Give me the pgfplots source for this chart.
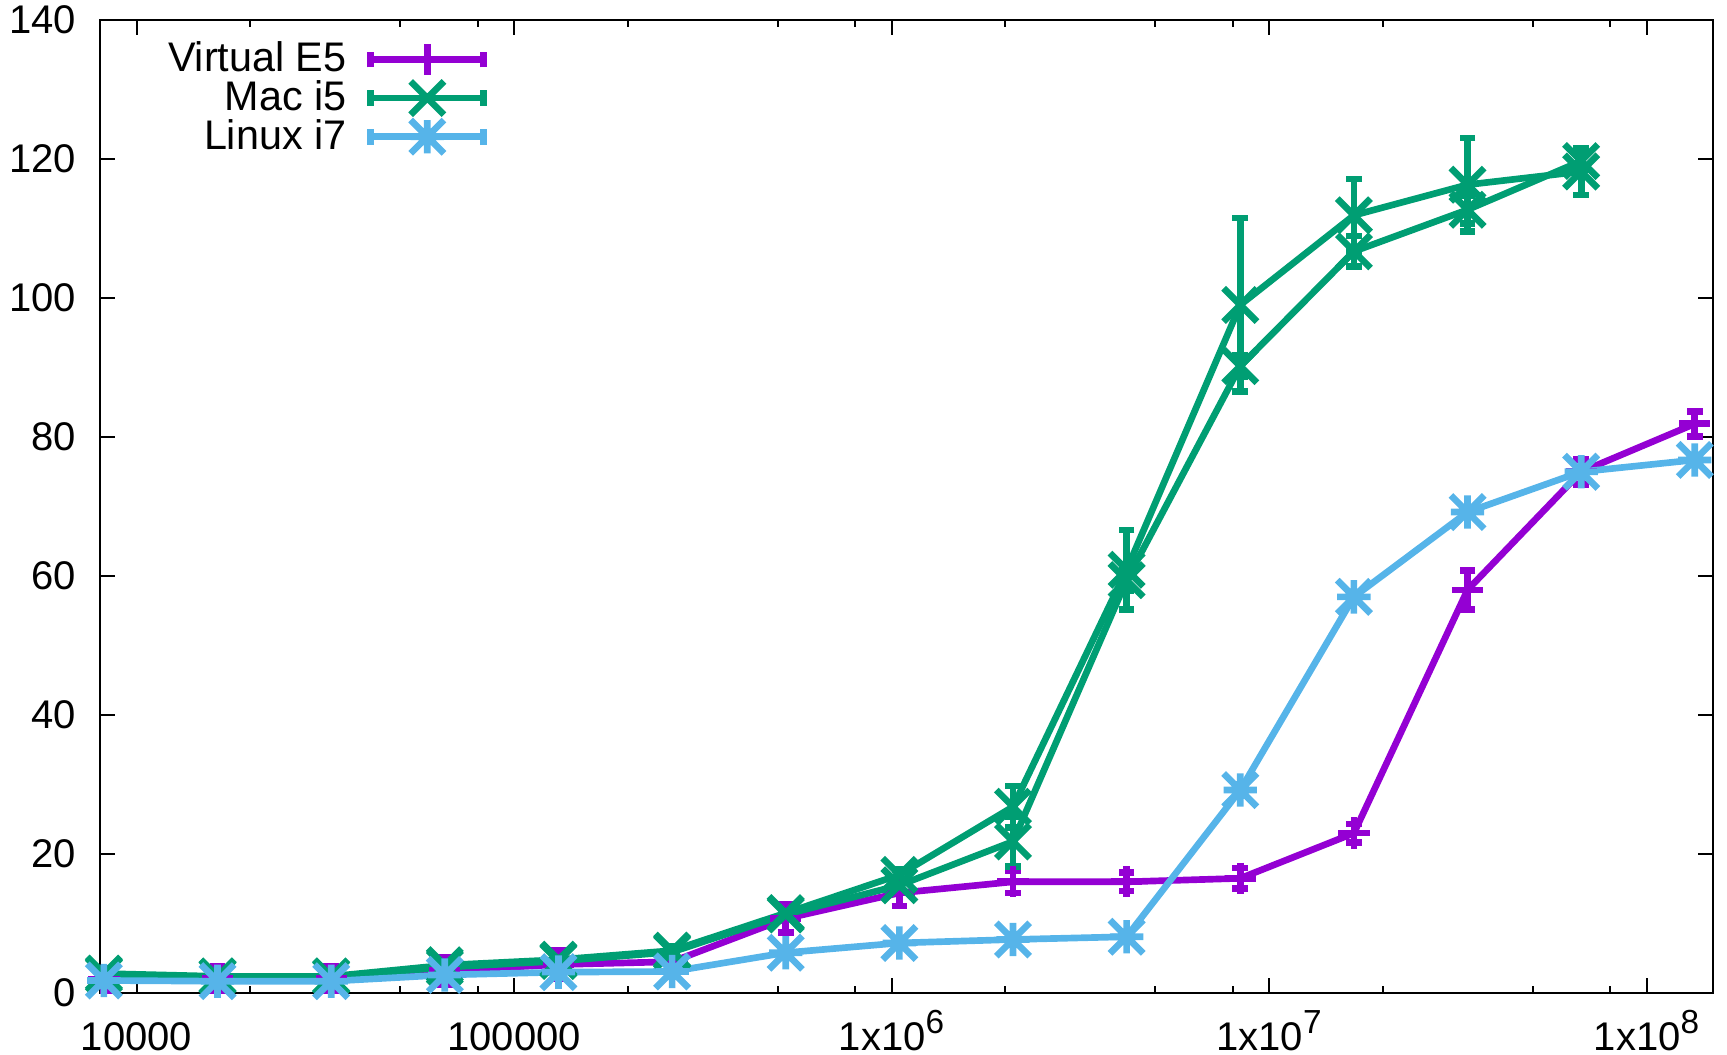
\documentclass[border=0pt]{standalone}
\usepackage{fontspec}
\setmainfont{Liberation Sans}
\usepackage{pgfplots}
\usepackage{pgfplotstable}
\pgfplotsset{compat=1.18}

\definecolor{cV}{HTML}{9400D3}
\definecolor{cM}{HTML}{009E73}
\definecolor{cL}{HTML}{56B4E9}

\pgfdeclareplotmark{gpx}{%
  \pgfpathmoveto{\pgfqpoint{-\pgfplotmarksize}{-\pgfplotmarksize}}%
  \pgfpathlineto{\pgfqpoint{\pgfplotmarksize}{\pgfplotmarksize}}%
  \pgfpathmoveto{\pgfqpoint{-\pgfplotmarksize}{\pgfplotmarksize}}%
  \pgfpathlineto{\pgfqpoint{\pgfplotmarksize}{-\pgfplotmarksize}}%
  \pgfusepathqstroke}
\pgfdeclareplotmark{gpstar}{%
  \pgfpathmoveto{\pgfqpoint{-\pgfplotmarksize}{-\pgfplotmarksize}}%
  \pgfpathlineto{\pgfqpoint{\pgfplotmarksize}{\pgfplotmarksize}}%
  \pgfpathmoveto{\pgfqpoint{-\pgfplotmarksize}{\pgfplotmarksize}}%
  \pgfpathlineto{\pgfqpoint{\pgfplotmarksize}{-\pgfplotmarksize}}%
  \pgfpathmoveto{\pgfqpoint{-\pgfplotmarksize}{0pt}}%
  \pgfpathlineto{\pgfqpoint{\pgfplotmarksize}{0pt}}%
  \pgfpathmoveto{\pgfqpoint{0pt}{-\pgfplotmarksize}}%
  \pgfpathlineto{\pgfqpoint{0pt}{\pgfplotmarksize}}%
  \pgfusepathqstroke}
\pgfdeclareplotmark{gpcap}{%
  \pgfpathmoveto{\pgfqpoint{-\pgfplotmarksize}{0pt}}%
  \pgfpathlineto{\pgfqpoint{\pgfplotmarksize}{0pt}}%
  \pgfusepathqstroke}

\newcommand{\gsup}[1]{\raisebox{0.42em}{\fontsize{10}{10}\selectfont #1}}

\pgfplotstableread{
x y e
8192 1.9 1.6
16384 2.1 1.8
32768 2.1 1.8
65536 3.2 2.0
131072 4.1 2.0
262144 4.5 1.5
524288 10.7 2.0
1048576 14.4 1.9
2097152 16.0 1.6
4194304 16.0 1.3
8388608 16.5 1.5
16777216 23.0 1.3
33554432 58.0 2.8
67108864 75.0 1.8
134217728 81.9 1.8
}\tV

\pgfplotstableread{
x y e
8192 2.8 0.5
16384 2.4 0.4
32768 2.4 0.4
65536 4.0 0.5
131072 4.8 0.6
262144 6.1 0.6
524288 11.5 0.8
1048576 17.0 0.8
2097152 26.8 3.0
4194304 60.9 5.7
8388608 99.0 12.5
16777216 111.9 5.2
33554432 116.3 6.7
67108864 118.2 3.4
}\tMa

\pgfplotstableread{
x y e
8192 2.6 0.4
16384 2.3 0.3
32768 2.3 0.3
65536 3.7 0.4
131072 4.6 0.4
262144 5.9 0.4
524288 11.3 0.6
1048576 15.5 0.8
2097152 21.8 3.6
4194304 59.4 1.5
8388608 90.2 1.5
16777216 106.7 2.2
33554432 112.7 2.0
67108864 119.7 1.2
}\tMb

\pgfplotstableread{
x y e
8192 1.8 0.3
16384 1.7 0.3
32768 1.7 0.3
65536 2.6 0.3
131072 3.0 0.3
262144 3.1 0.3
524288 5.8 0.4
1048576 7.2 0.3
2097152 7.7 0.3
4194304 8.1 0.3
8388608 29.2 0.8
16777216 57.0 0.6
33554432 69.2 0.6
67108864 75.0 0.5
134217728 76.7 0.5
}\tL

\begin{document}
\begin{tikzpicture}
\begin{axis}[
  scale only axis,
  width=483.9pt, height=291.9pt,
  xmode=log, log basis x=10,
  xmin=8000, xmax=1.5e8,
  ymin=0, ymax=140,
  xtick={1e4,1e5,1e6,1e7,1e8},
  xticklabels={10000,100000,1x10\gsup{6},1x10\gsup{7},1x10\gsup{8}},
  minor xtick={2e4,5e4,8e4,2e5,5e5,8e5,2e6,5e6,8e6,2e7,5e7,8e7},
  ytick={0,20,40,60,80,100,120,140},
  /pgf/number format/assume math mode=true,
  tick align=inside,
  xtick pos=both, ytick pos=both,
  major tick length=4.6pt, minor tick length=2.2pt,
  every tick/.style={black, line width=0.6pt},
  axis line style={line width=0.8pt},
  ticklabel style={font=\fontsize{12}{14}\selectfont},
  xticklabel style={anchor=base, inner sep=0pt, yshift=-17.1pt},
  yticklabel style={anchor=east, inner sep=0pt, xshift=-7.0pt},
  legend plot pos=right,
  legend cell align=right,
  legend style={draw=none, fill=none, inner sep=0pt, outer sep=0pt,
    at={(rel axis cs:0,1)}, anchor=north west, xshift=20.4pt, yshift=-6.6pt,
    font=\fontsize{12.4}{14}\selectfont, row sep=1.1pt, column sep=0pt,
    nodes={inner sep=0pt, outer sep=0pt}},
  legend image code/.code={%
    \path (0pt,0pt);
    \draw[mark repeat=2,mark phase=2,#1] plot coordinates {(6.3pt,0pt) (23.25pt,0pt) (40.2pt,0pt)};
    \draw[#1,mark=none] (6.3pt,-2.35pt) -- (6.3pt,2.35pt) (40.2pt,-2.35pt) -- (40.2pt,2.35pt);
  },
  every axis plot/.append style={line width=2pt},
  error bars/y dir=both,
  error bars/y explicit,
  error bars/error bar style={line width=2pt},
  error bars/error mark=gpcap,
  error bars/error mark options={rotate=90, line width=2pt, mark size=2.35pt},
]
\coordinate (sw) at (rel axis cs:0,0);
\coordinate (ne) at (rel axis cs:1,1);
\addplot[color=cV, mark=+, mark size=4.7pt] table[x=x,y=y,y error=e] {\tV};
\addlegendentry{Virtual E5}
\addplot[color=cM, mark=gpx, mark size=5pt] table[x=x,y=y,y error=e] {\tMa};
\addlegendentry{Mac i5}
\addplot[color=cM, mark=gpx, mark size=5pt, forget plot] table[x=x,y=y,y error=e] {\tMb};
\addplot[color=cL, mark=gpstar, mark size=5pt] table[x=x,y=y,y error=e] {\tL};
\addlegendentry{Linux i7}
\end{axis}
\pgfresetboundingbox
\path (sw) +(-30pt,-18.3pt);
\path (ne) +(4.2pt,6pt);
\end{tikzpicture}
\end{document}
